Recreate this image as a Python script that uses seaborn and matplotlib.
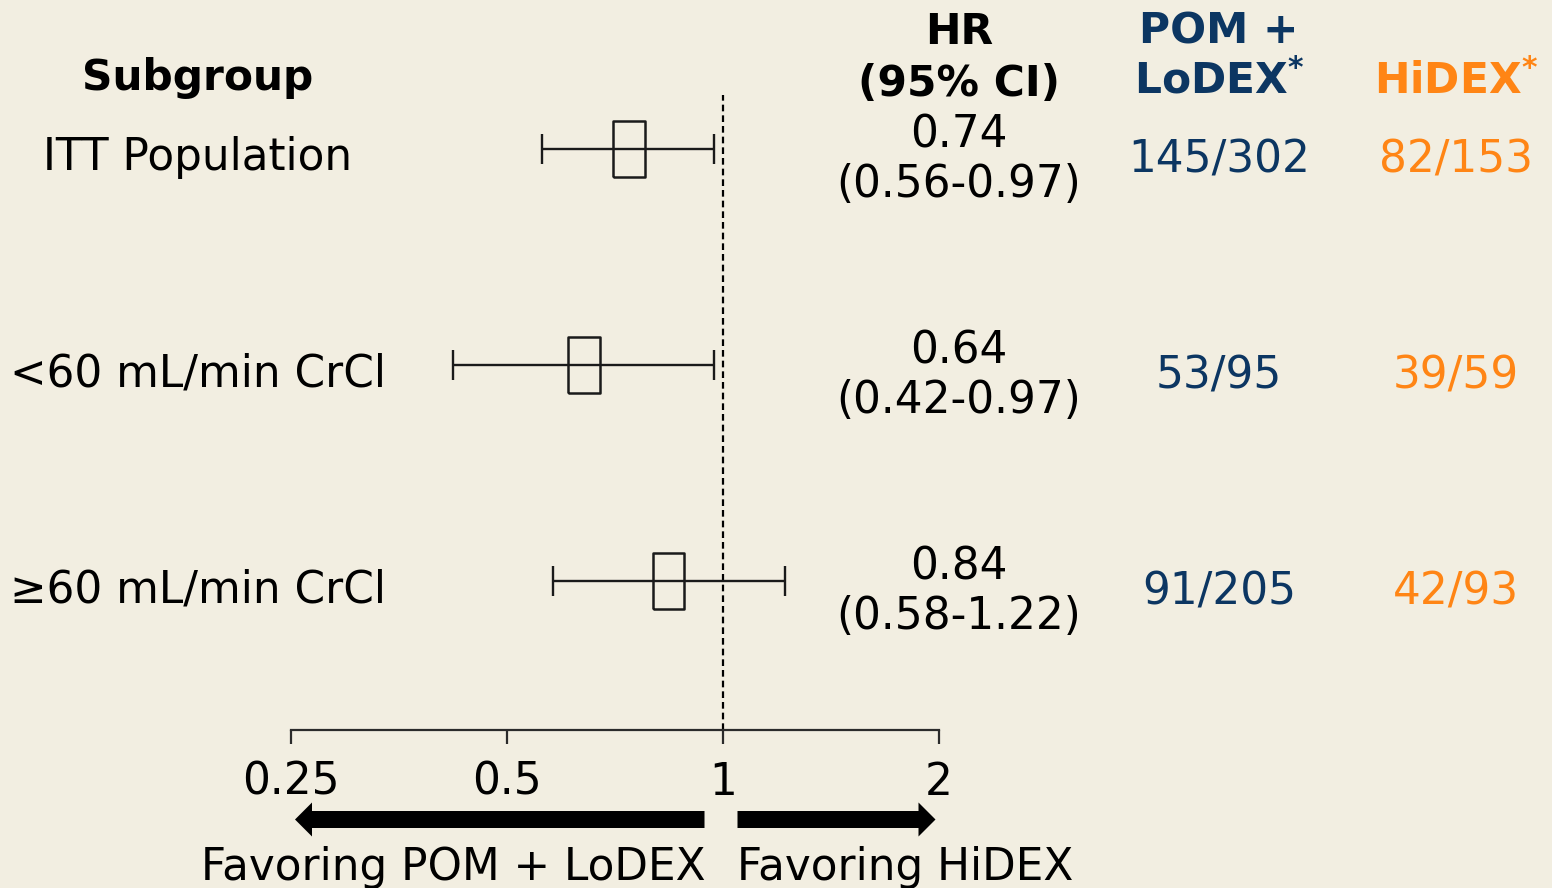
import numpy as np
import pandas as pd
import matplotlib
matplotlib.use("Agg")
import matplotlib.pyplot as plt
from matplotlib.patches import FancyArrow
import seaborn as sns

# Forest plot data
subgroups = ["ITT Population", "<60 mL/min CrCl", "\u226560 mL/min CrCl"]
hr = [0.74, 0.64, 0.84]
ci_low = [0.56, 0.42, 0.58]
ci_high = [0.97, 0.97, 1.22]
pom_events = ["145/302", "53/95", "91/205"]
hidex_events = ["82/153", "39/59", "42/93"]
x_ticks = [0.25, 0.5, 1, 2]
x_tick_labels = ["0.25", "0.5", "1", "2"]

BG = "#F2EEE1"
NAVY = "#0C3662"
ORANGE = "#FF8515"
INK = "#1a1a1a"
FS = 31.5
FS_B = 30.5

sns.set_theme(style="white")
plt.rcParams["font.family"] = ["DejaVu Sans"]
plt.rcParams["mathtext.fontset"] = "dejavusans"

W, H = 1552, 888
fig = plt.figure(figsize=(W / 100, H / 100), dpi=100, facecolor=BG)

# overlay axes in pixel units (y down) for the text columns and arrows
bg = fig.add_axes([0, 0, 1, 1], zorder=0)
bg.set_xlim(0, W)
bg.set_ylim(H, 0)
bg.set_facecolor("none")
bg.axis("off")

# rows: first row centre at pixel 149, 216 px apart
row0, step = 149, 216
ax = fig.add_axes([291 / W, (H - 730) / H, 648 / W, 635 / H], zorder=1)
ax.set_facecolor("none")

df = pd.DataFrame({"subgroup": subgroups, "hr": hr, "lo": ci_low, "hi": ci_high})
df["row"] = np.arange(len(df))

ax.errorbar(df["hr"], df["row"],
            xerr=[df["hr"] - df["lo"], df["hi"] - df["hr"]],
            fmt="none", ecolor=INK, elinewidth=1.7,
            capsize=11, capthick=1.7, zorder=2)

box = [(-0.278, -0.5), (0.278, -0.5), (0.278, 0.5), (-0.278, 0.5), (-0.278, -0.5)]
sns.scatterplot(data=df, x="hr", y="row", marker=box, s=41 ** 2,
                ax=ax, zorder=3, legend=False)
pts = ax.collections[-1]
pts.set_facecolor("none")
pts.set_edgecolor(INK)
pts.set_linewidth(1.8)

ax.axvline(1, color="black", lw=1.6, ls=(0, (3, 1.8)), zorder=1)

ax.set_xscale("log", base=2)
ax.set_xlim(0.25, 2)
ax.set_xticks(x_ticks, x_tick_labels)
ax.minorticks_off()
ax.set_ylim((730 - row0) / step, (95 - row0) / step)
ax.set_yticks([])
ax.set_xlabel("")
ax.set_ylabel("")
for s in ["left", "top", "right"]:
    ax.spines[s].set_visible(False)
ax.spines["bottom"].set_color("#2b2b2b")
ax.spines["bottom"].set_linewidth(1.6)
ax.tick_params(axis="x", bottom=True, direction="out", length=10, width=1.6,
               color="#2b2b2b", pad=12, labelsize=FS, labelcolor="black")

# headers
hdr = dict(fontsize=FS_B, fontweight="bold", ha="center", va="baseline")
bg.text(198, 90, "Subgroup", color="black", **hdr)
bg.text(959, 44, "HR", color="black", **hdr)
bg.text(959, 96, "(95% CI)", color="black", **hdr)
bg.text(1219, 43, "POM +", color=NAVY, **hdr)
bg.text(1219, 94, r"LoDEX$^{\mathbf{*}}$", color=NAVY, **hdr)
bg.text(1456, 94, r"HiDEX$^{\mathbf{*}}$", color=ORANGE, **hdr)

# row texts
txt = dict(fontsize=FS, ha="center", va="baseline")
for i in range(len(df)):
    y = row0 + step * i
    bg.text(198, y + 21, subgroups[i], color="black", **txt)
    bg.text(959, y - 2, f"{hr[i]:.2f}", color="black", **txt)
    bg.text(959, y + 48, f"({ci_low[i]:.2f}-{ci_high[i]:.2f})", color="black", **txt)
    bg.text(1219, y + 23, pom_events[i], color=NAVY, **txt)
    bg.text(1456, y + 23, hidex_events[i], color=ORANGE, **txt)

# direction arrows and captions
arrow = dict(width=17, head_width=34, head_length=17,
             length_includes_head=True, color="black", lw=0)
bg.add_patch(FancyArrow(704.5, 819.5, 295 - 704.5, 0, **arrow))
bg.add_patch(FancyArrow(737.5, 819.5, 935.5 - 737.5, 0, **arrow))
bg.text(453.5, 880, "Favoring POM + LoDEX", color="black", **txt)
bg.text(905.5, 880, "Favoring HiDEX", color="black", **txt)

fig.savefig("out.png", dpi=100, facecolor=BG)
